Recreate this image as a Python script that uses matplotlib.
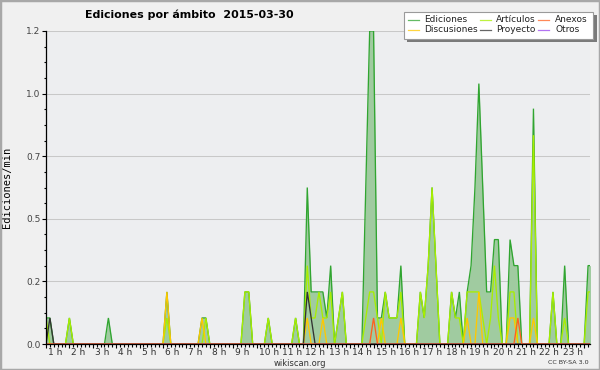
import numpy as np
import matplotlib
matplotlib.use('Agg')
import matplotlib.pyplot as plt
from matplotlib import font_manager
from matplotlib.lines import Line2D
from matplotlib.patches import Rectangle
from matplotlib.transforms import ScaledTranslation

# ---- data: edits/min per 10-minute bin (bin index -> value), other bins are 0
N_BINS = 147
BINS_PER_HOUR = 6

ediciones = {5: .104, 6: .104, 7: .104, 12: .104, 22: .104, 37: .208, 46: .104, 47: .104,
             57: .208, 58: .208, 63: .104, 70: .104, 73: .625, 74: .208, 75: .208, 76: .208,
             77: .208, 78: .104, 79: .313, 81: .104, 82: .208, 88: .625, 89: 1.25, 90: 1.25,
             91: .104, 92: .104, 93: .208, 94: .104, 95: .104, 96: .104, 97: .313, 102: .208,
             103: .104, 104: .313, 105: .625, 106: .313, 110: .208, 111: .104, 112: .208,
             114: .208, 115: .313, 116: .625, 117: 1.04, 118: .625, 119: .208, 120: .208,
             121: .417, 122: .417, 125: .417, 126: .313, 127: .313, 131: .94, 136: .208,
             139: .313, 145: .313, 146: .313}
articulos = {6: .104, 12: .104, 37: .104, 47: .104, 57: .208, 58: .208, 63: .104, 70: .104,
             73: .313, 74: .104, 75: .104, 76: .208, 77: .104, 78: .104, 79: .208, 81: .104,
             82: .208, 88: .104, 89: .208, 90: .208, 91: .104, 93: .208, 94: .104, 95: .104,
             96: .104, 97: .208, 102: .208, 103: .104, 104: .313, 105: .625, 106: .313,
             110: .208, 111: .104, 112: .104, 114: .208, 115: .208, 116: .208, 117: .208,
             118: .104, 120: .104, 121: .313, 122: .104, 125: .208, 126: .208, 131: .834,
             136: .208, 139: .104, 145: .208, 146: .208}
discusiones = {37: .208, 46: .104, 73: .104, 77: .104, 92: .104, 97: .104, 114: .104,
               117: .208, 125: .104, 126: .104, 131: .104}
proyecto = {7: .104, 73: .208, 74: .104}
anexos = {90: .104, 127: .104}
otros = {}

hour_ticks = list(range(1, 25))
hour_labels = [f"{h} h" for h in range(1, 24)] + [""]
y_ticks = [0, 0.25, 0.5, 0.75, 1.0, 1.25]
y_labels = ["0.0", "0.2", "0.5", "0.7", "1.0", "1.2"]

series = [("Ediciones", ediciones, '#30a530'),
          ("Artículos", articulos, '#a8ee00'),
          ("Discusiones", discusiones, '#ffc800'),
          ("Proyecto", proyecto, '#333333'),
          ("Anexos", anexos, '#ff6020'),
          ("Otros", otros, '#9944ee')]


def to_array(d):
    a = np.zeros(N_BINS)
    for k, v in d.items():
        a[k] = v
    return a


available = {f.name for f in font_manager.fontManager.ttflist}
title_font, title_size = 'DejaVu Sans', 7.9
for cand, size in [('DejaVu Sans Condensed', 9.2), ('Liberation Sans Narrow', 9.6)]:
    if cand in available:
        title_font, title_size = cand, size
        break

t = np.arange(N_BINS) / BINS_PER_HOUR

W, H = 600, 370
fig = plt.figure(figsize=(6, 3.7), dpi=100, facecolor='#f0f0f0')
fig.patches.append(Rectangle((0, 0), 1, 1, transform=fig.transFigure, fill=False,
                             edgecolor='#a8a8a8', lw=2.5))

ax = fig.add_axes([46 / W, 26 / H, 544 / W, 313 / H])
ax.set_facecolor('#edeef0')

ed = to_array(ediciones)
ax.fill_between(t, 0, ed, color='#a0cba0', lw=0, zorder=1)
for i, (name, d, c) in enumerate(series):
    ax.plot(t, to_array(d), color=c, lw=0.95, zorder=2 + i, solid_joinstyle='miter')

ax.set_xlim(1.0, 24.25)
ax.set_ylim(0, 1.25)
ax.yaxis.grid(True, color='#c8c8c8', lw=0.75)
ax.set_axisbelow(True)

for s in ['top', 'right']:
    ax.spines[s].set_visible(False)
for s in ['left', 'bottom']:
    ax.spines[s].set_color('black')
    ax.spines[s].set_linewidth(0.9)
    ax.spines[s].set_zorder(10)

ax.set_yticks(y_ticks)
ax.set_yticklabels(y_labels, fontsize=6.5, color='#444444')
ax.set_yticks(np.arange(0, 1.25, 0.0625), minor=True)
ax.tick_params(axis='y', which='major', length=3, width=0.8, pad=1)
ax.tick_params(axis='y', which='minor', length=1.8, width=0.8)

ax.set_xticks(hour_ticks)
ax.set_xticklabels(hour_labels, fontsize=6.5, color='#333333')
ax.set_xticks(np.arange(1, 24.25, 1 / BINS_PER_HOUR), minor=True)
ax.tick_params(axis='x', which='major', length=3, width=0.8, pad=0)
ax.tick_params(axis='x', which='minor', length=2.5, width=0.8)
offset = ScaledTranslation(1.5 / 72, 0, fig.dpi_scale_trans)
for lab in ax.get_xticklabels():
    lab.set_horizontalalignment('left')
    lab.set_transform(lab.get_transform() + offset)

ax.set_ylabel("Ediciones/min", fontsize=7.5, family='DejaVu Sans Mono')
ax.yaxis.set_label_coords(-0.062, 0.5)

fig.text(85 / W, 1 - 15 / H, "Ediciones por ámbito  2015-03-30", fontsize=title_size,
         family=title_font, fontweight='bold', ha='left', va='center')
fig.text(300 / W, 1 - 363 / H, "wikiscan.org", fontsize=6, ha='center', va='center',
         color='#333333')
fig.text(589 / W, 1 - 363 / H, "CC BY-SA 3.0", fontsize=4.6, ha='right', va='center',
         color='#333333')


def fx(x):
    return x / W


def fy(y):
    return 1 - y / H


# legend box with shadow
fig.patches.append(Rectangle((fx(407), fy(42)), fx(597) - fx(407), fy(15) - fy(42),
                             transform=fig.transFigure, facecolor='#7a7a7a', lw=0, zorder=20))
fig.patches.append(Rectangle((fx(404), fy(39)), fx(593) - fx(404), fy(12) - fy(39),
                             transform=fig.transFigure, facecolor='white',
                             edgecolor='#9a9a9a', lw=0.8, zorder=21))
cols = [(408, 424), (480, 496), (538, 555)]
rows = [19.5, 29.5]
order = [0, 2, 1, 3, 4, 5]  # column-wise: Ediciones, Discusiones | Artículos, Proyecto | Anexos, Otros
for k, si in enumerate(order):
    name, d, c = series[si]
    ci, ri = k // 2, k % 2
    hx, tx = cols[ci]
    y = rows[ri]
    fig.lines.append(Line2D([fx(hx), fx(hx + 11)], [fy(y), fy(y)], transform=fig.transFigure,
                            color=c, lw=0.9, alpha=0.75, zorder=22))
    fig.text(fx(tx), fy(y), name, fontsize=6.5, ha='left', va='center', zorder=23,
             color='#222222')

fig.savefig('out.png', dpi=100, facecolor=fig.get_facecolor())
